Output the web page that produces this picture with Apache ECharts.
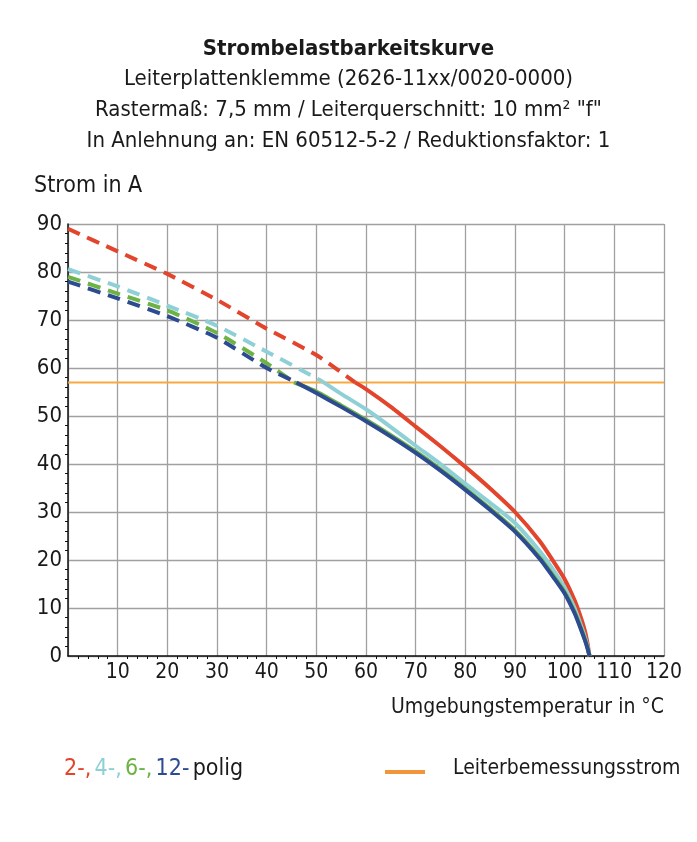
<!DOCTYPE html>
<html><head><meta charset="utf-8">
<script src="https://cdn.jsdelivr.net/npm/echarts@6/dist/echarts.min.js"></script>
<style>html,body{margin:0;padding:0;background:#fff}#c{width:697px;height:842px}</style>
</head><body><div id="c"></div>
<script>
// ---- data ----
var xTicks = [10,20,30,40,50,60,70,80,90,100,110,120];
var yTicks = [0,10,20,30,40,50,60,70,80,90];
var ratedCurrent = 57;
var pol2Dashed = [[0,89],[10,84.3],[20,79.6],[30,74.2],[40,68.2],[50,62.7],[57.8,57]];
var pol2Solid  = [[57.8,57],[60,55.6],[65,51.9],[70,47.8],[75,43.7],[80,39.4],[85,34.9],[90,30],[95,23.9],[98,19.3],[100,16],[102,11.6],[103,8.8],[104,5.5],[104.6,2.7],[105,0]];
var pol4Dashed = [[0,80.6],[10,77],[20,73],[30,68.8],[40,63.4],[50,57.9],[51.5,57]];
var pol4Solid  = [[51.5,57],[55,54.6],[60,51.4],[65,47.7],[70,43.8],[75,40],[80,35.9],[85,31.9],[90,27.7],[95,21.8],[98,17.5],[100,14.2],[102,10],[103,7.2],[104,4.2],[104.6,2],[105,0]];
var pol6Dashed = [[0,79],[10,75.5],[20,72],[30,67.3],[40,61],[45.5,57]];
var pol6Solid  = [[45.5,57],[50,55.1],[55,52.2],[60,49.2],[65,46],[70,42.6],[75,38.9],[80,34.9],[85,30.7],[90,26.2],[95,20.5],[98,16.3],[100,13.3],[102,9.2],[103,6.6],[104,3.7],[104.6,1.7],[105,0]];
var pol12Dashed = [[0,78],[10,74.5],[20,70.8],[30,66.3],[40,60],[46,57]];
var pol12Solid  = [[46,57],[50,54.8],[55,51.9],[60,48.9],[65,45.7],[70,42.3],[75,38.6],[80,34.6],[85,30.4],[90,25.9],[95,20.2],[98,16],[100,13],[102,8.9],[103,6.3],[104,3.5],[104.6,1.6],[105,0]];

var C_RED='#e2452c', C_CYAN='#8fd0d6', C_GREEN='#6cb244', C_BLUE='#2c4b91', C_ORANGE='#f7a941';
var FONT = '"Liberation Sans Narrow","DejaVu Sans Condensed","Roboto",sans-serif';

function line(data, color, dashed, z){
  return {type:'line', data:data, showSymbol:false, symbol:'none', smooth:0.2, z:z,
    lineStyle:{color:color, width:4, type: dashed ? [13,8] : 'solid', cap:'butt', join:'round'}, silent:true, animation:false};
}

var chart = echarts.init(document.getElementById('c'), null, {renderer:'canvas'});
var titleLines = ['Leiterplattenklemme (2626-11xx/0020-0000)','Rastermaß: 7,5 mm / Leiterquerschnitt: 10 mm² "f"','In Anlehnung an: EN 60512-5-2 / Reduktionsfaktor: 1'];
var titles = [{text:'Strombelastbarkeitskurve', left:'center', top:33, textStyle:{fontFamily:FONT, fontSize:22, fontWeight:'bold', color:'#1a1a1a'}}];
titleLines.forEach(function(t,i){ titles.push({text:t, left:'center', top:63+i*31, textStyle:{fontFamily:FONT, fontSize:22, fontWeight:'normal', color:'#1a1a1a'}}); });

chart.setOption({
  animation:false,
  title: titles,
  grid:{left:68, right:33, top:224, bottom:186},
  xAxis:{type:'value', min:0, max:120, interval:10,
    name:'Umgebungstemperatur in °C', nameLocation:'end', nameGap:0,
    nameTextStyle:{fontFamily:FONT, fontSize:21, color:'#1a1a1a', align:'right', verticalAlign:'top', padding:[41,0,0,0]},
    axisLine:{lineStyle:{color:'#111', width:1.5}},
    axisTick:{show:false},
    minorTick:{show:true, splitNumber:5, length:3, lineStyle:{color:'#111'}},
    splitLine:{show:true, lineStyle:{color:'#a0a0a0', width:1.3}},
    axisLabel:{fontFamily:FONT, fontSize:21, color:'#1a1a1a', margin:6,
      formatter:function(v){ return xTicks.indexOf(v)>=0 ? String(v) : ''; }}
  },
  yAxis:{type:'value', min:0, max:90, interval:10,
    name:'Strom in A', nameLocation:'end', nameGap:26,
    nameTextStyle:{fontFamily:FONT, fontSize:23, color:'#1a1a1a', align:'left', padding:[0,0,0,-34]},
    axisLine:{show:true, lineStyle:{color:'#111', width:1.5}},
    axisTick:{show:false},
    minorTick:{show:true, splitNumber:5, length:3, lineStyle:{color:'#111'}},
    splitLine:{show:true, lineStyle:{color:'#a0a0a0', width:1.3}},
    axisLabel:{fontFamily:FONT, fontSize:22, color:'#1a1a1a', margin:6,
      formatter:function(v){ return yTicks.indexOf(v)>=0 ? String(v) : ''; }}
  },
  series:[
    {type:'line', data:[[0,ratedCurrent],[120,ratedCurrent]], showSymbol:false, symbol:'none', z:1,
      lineStyle:{color:C_ORANGE, width:2}, silent:true},
    line(pol2Dashed, C_RED, true, 2), line(pol2Solid, C_RED, false, 2),
    line(pol4Dashed, C_CYAN, true, 3), line(pol4Solid, C_CYAN, false, 3),
    line(pol6Dashed, C_GREEN, true, 4), line(pol6Solid, C_GREEN, false, 4),
    line(pol12Dashed, C_BLUE, true, 5), line(pol12Solid, C_BLUE, false, 5)
  ],
  graphic:[
    {type:'text', left:64, top:758, style:{
      text:'{r|2-,} {c|4-,} {g|6-,} {b|12-} {k|polig}',
      rich:{
        r:{fill:C_RED, fontFamily:FONT, fontSize:23},
        c:{fill:C_CYAN, fontFamily:FONT, fontSize:23},
        g:{fill:C_GREEN, fontFamily:FONT, fontSize:23},
        b:{fill:C_BLUE, fontFamily:FONT, fontSize:23},
        k:{fill:'#1a1a1a', fontFamily:FONT, fontSize:23}
      }}},
    {type:'line', shape:{x1:385, y1:772, x2:425, y2:772}, style:{stroke:'#f0953a', lineWidth:4}},
    {type:'text', left:453, top:758, style:{text:'Leiterbemessungsstrom', fill:'#1a1a1a', fontFamily:FONT, fontSize:21}}
  ]
});
</script></body></html>
